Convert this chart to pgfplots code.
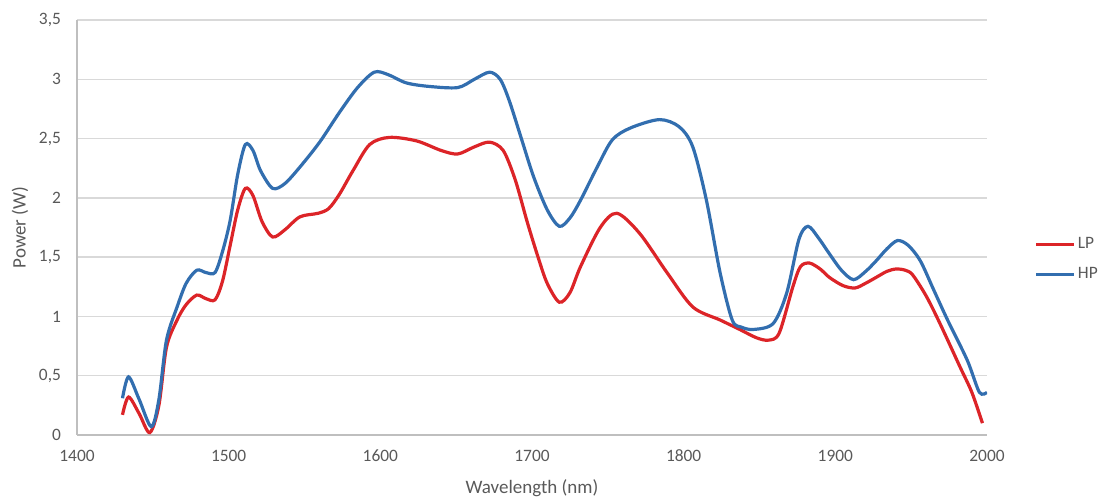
\documentclass[border=0pt]{standalone}
\usepackage{pgfplots}
\pgfplotsset{compat=1.18}
\usepackage{fontspec}
\setmainfont{Carlito}
\definecolor{lpred}{RGB}{220,36,40}
\definecolor{hpblue}{RGB}{50,110,175}
\definecolor{txtgray}{RGB}{89,89,89}
\definecolor{gridgray}{RGB}{217,217,217}
\definecolor{axgray}{RGB}{191,191,191}
\pgfplotstableread{
x y
1430 0.17
1434 0.32
1441 0.18
1448 0.02
1454 0.25
1459 0.74
1466 0.97
1472 1.10
1479 1.18
1485 1.15
1491 1.14
1496 1.30
1501 1.60
1506 1.90
1511 2.08
1516 2.02
1522 1.80
1529 1.67
1537 1.73
1547 1.84
1559 1.87
1566 1.91
1573 2.03
1582 2.23
1593 2.45
1606 2.51
1624 2.48
1640 2.40
1651 2.37
1662 2.43
1672 2.47
1681 2.40
1689 2.15
1697 1.79
1704 1.50
1710 1.28
1718 1.12
1725 1.20
1732 1.42
1745 1.75
1756 1.87
1771 1.70
1789 1.37
1806 1.08
1824 0.97
1837 0.89
1848 0.82
1856 0.80
1863 0.86
1872 1.25
1877 1.42
1883 1.45
1890 1.40
1896 1.33
1905 1.26
1913 1.24
1920 1.28
1927 1.33
1934 1.38
1940 1.40
1946 1.39
1951 1.35
1960 1.17
1969 0.94
1982 0.58
1990 0.36
1997 0.10
}\lpdata
\pgfplotstableread{
x y
1430 0.31
1434 0.49
1441 0.30
1449 0.07
1454 0.30
1459 0.80
1466 1.08
1472 1.28
1479 1.39
1485 1.37
1491 1.37
1496 1.55
1501 1.81
1506 2.20
1511 2.45
1516 2.40
1521 2.23
1529 2.08
1537 2.12
1547 2.26
1560 2.47
1573 2.72
1585 2.93
1596 3.06
1605 3.04
1617 2.97
1632 2.94
1651 2.93
1662 3.00
1672 3.06
1679 3.00
1685 2.82
1693 2.50
1701 2.18
1710 1.90
1718 1.76
1725 1.83
1732 1.98
1743 2.26
1753 2.49
1765 2.59
1784 2.66
1797 2.60
1806 2.43
1815 1.98
1824 1.37
1832 0.97
1838 0.91
1846 0.89
1859 0.94
1868 1.20
1876 1.65
1882 1.76
1889 1.66
1896 1.53
1904 1.39
1912 1.31
1920 1.38
1927 1.47
1934 1.57
1941 1.64
1948 1.60
1956 1.47
1965 1.22
1974 0.97
1987 0.63
1995 0.36
2000 0.36
}\hpdata
\begin{document}
\begin{tikzpicture}
\useasboundingbox (-38.5pt,-31.5pt) rectangle (511.5pt,217.5pt);
\begin{axis}[
  at={(0,0)}, anchor=south west,
  scale only axis, width=455pt, height=207.5pt,
  xmin=1400, xmax=2000, ymin=0, ymax=3.5,
  xtick={1400,1500,...,2000},
  ytick={0,0.5,...,3.5},
  /pgf/number format/.cd, use comma, 1000 sep={}, assume math mode=true,
  /pgfplots/.cd,
  tick style={draw=none},
  ymajorgrids, grid style={gridgray, line width=0.7pt},
  axis x line*=bottom, axis y line*=left,
  axis line style={axgray, line width=0.7pt, -},
  ticklabel style={font=\fontsize{8.7}{10}\selectfont, text=txtgray},
  yticklabel style={xshift=-4.5pt},
  xticklabel style={yshift=-4pt},
  xlabel={Wavelength (nm)}, ylabel={Power (W)},
  label style={font=\fontsize{9.5}{11}\selectfont, text=txtgray},
  xlabel style={at={(axis description cs:0.5,0)}, anchor=center, yshift=-26.5pt},
  ylabel style={at={(axis description cs:-0.0626,0.5)}, anchor=center},
  legend style={at={(axis description cs:1.052,0.423)}, anchor=west, draw=none, fill=none,
    font=\fontsize{8.7}{10}\selectfont, text=txtgray, row sep=6pt, inner sep=0pt,
    nodes={inner sep=1pt}},
  legend cell align=left,
  legend image code/.code={\draw[#1, line width=1.6pt] (0pt,0pt) -- (19pt,0pt);},
]
\addplot[lpred, line width=1.6pt, smooth, tension=0.5] table {\lpdata};
\addlegendentry{LP}
\addplot[hpblue, line width=1.6pt, smooth, tension=0.5] table {\hpdata};
\addlegendentry{HP}
\end{axis}
\end{tikzpicture}
\end{document}
